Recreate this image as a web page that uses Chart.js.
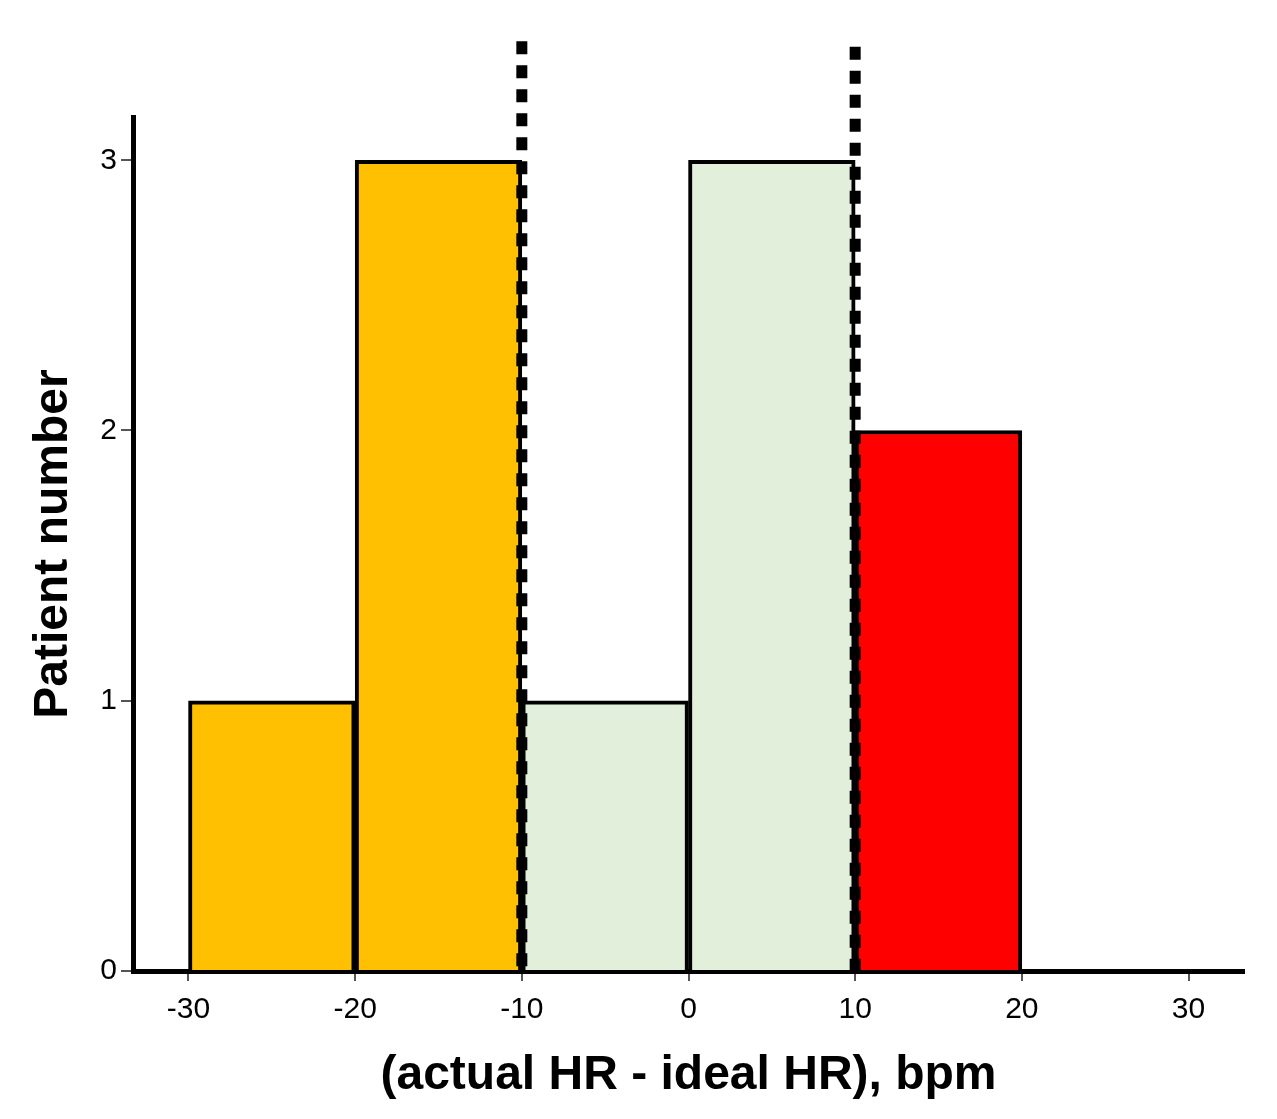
<!DOCTYPE html>
<html lang="en">
<head>
    <meta charset="UTF-8">
    <script src="https://cdn.jsdelivr.net/npm/chart.js"></script>
    <title>HR difference histogram</title>
</head>
<style>
    body {
        margin: 0;
        background: #fff;
    }
    .container {
        width: 1277px;
        height: 1119px;
    }
</style>
<body>
    <div class="container">
      <canvas id="histChart"></canvas>
    </div>
</body>
<script>
  // bin centres (bins are 10 bpm wide)
  const binCentres = [-25, -15, -5, 5, 15];
  const patientCounts = [1, 3, 1, 3, 2];
  const binColours = ['#FEC000', '#FEC000', '#E2EFDA', '#E2EFDA', '#FF0000'];

  // dashed threshold lines
  const thresholdX = [-10, 10];
  const thresholdTop = [3.44, 3.42];

  const xTicks = [-30, -20, -10, 0, 10, 20, 30];
  const yTicks = [0, 1, 2, 3];

  const fontFamily = '"Liberation Sans", Arial, Helvetica, sans-serif';

  const histData = binCentres.map((x, i) => ({ x: x, y: patientCounts[i] }));

  const datasets = [{
    type: 'bar',
    label: 'Patients',
    data: histData,
    backgroundColor: binColours,
    borderColor: '#000',
    borderWidth: 4,
    barPercentage: 1,
    categoryPercentage: 1,
    order: 2
  }];

  thresholdX.forEach((tx, i) => {
    datasets.push({
      type: 'line',
      label: 'threshold ' + tx,
      data: [{ x: tx, y: thresholdTop[i] }, { x: tx, y: 0 }],
      borderColor: '#000',
      borderWidth: 11,
      borderDash: [13, 11],
      borderCapStyle: 'butt',
      pointRadius: 0,
      fill: false,
      clip: false,
      order: 1
    });
  });

  const config = {
    type: 'bar',
    data: { datasets: datasets },
    options: {
      responsive: true,
      maintainAspectRatio: false,
      animation: false,
      layout: {
        padding: { top: 117, left: 25, right: 33, bottom: 14 }
      },
      plugins: {
        legend: { display: false },
        tooltip: { enabled: false }
      },
      scales: {
        x: {
          type: 'linear',
          min: -33.33,
          max: 33.33,
          offset: false,
          grid: {
            offset: false,
            drawOnChartArea: false,
            drawTicks: true,
            tickLength: 10,
            color: '#555',
            lineWidth: 2
          },
          border: { display: true, color: '#000', width: 5 },
          afterBuildTicks: (scale) => {
            scale.ticks = xTicks.map(v => ({ value: v }));
          },
          afterFit: (scale) => { scale.height = 134; },
          ticks: {
            padding: 11,
            color: '#000',
            font: { family: fontFamily, size: 30 }
          },
          title: {
            display: true,
            text: '(actual HR - ideal HR), bpm',
            color: '#000',
            padding: { top: 0, bottom: 0 },
            font: { family: fontFamily, size: 48, weight: 'bold' }
          }
        },
        y: {
          type: 'linear',
          min: 0,
          max: 3.16,
          grid: {
            drawOnChartArea: false,
            drawTicks: true,
            tickLength: 12,
            color: '#555',
            lineWidth: 2
          },
          border: { display: true, color: '#000', width: 5 },
          afterBuildTicks: (scale) => {
            scale.ticks = yTicks.map(v => ({ value: v }));
          },
          afterFit: (scale) => { scale.width = 108; },
          ticks: {
            padding: 4,
            color: '#000',
            font: { family: fontFamily, size: 30 }
          },
          title: {
            display: true,
            text: 'Patient number',
            color: '#000',
            padding: { top: 0, bottom: 0 },
            font: { family: fontFamily, size: 48, weight: 'bold' }
          }
        }
      }
    }
  };

  const histChart = new Chart(
    document.getElementById('histChart'),
    config
  );
</script>
</html>
